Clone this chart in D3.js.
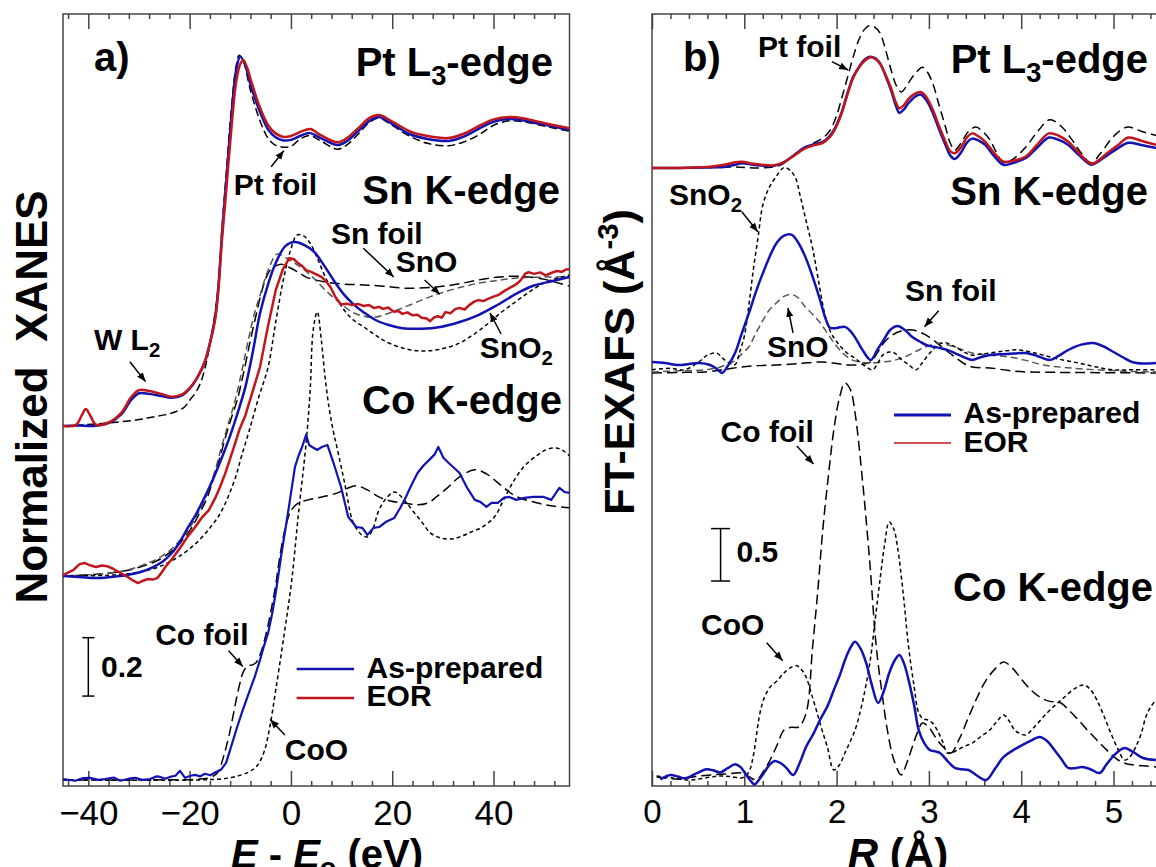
<!DOCTYPE html>
<html>
<head>
<meta charset="utf-8">
<script src="https://cdn.jsdelivr.net/npm/d3@7"></script>
<style>
  body { margin: 0; background: #fff; }
  svg { display: block; font-family: "Liberation Sans", Arial, Helvetica, sans-serif; }
</style>
</head>
<body>
<svg id="chart" width="1156" height="867"></svg>
<script>
// ---------- a) XANES, normalised mu(E) vs E - E0 (eV) ----------
const xanesOffsetPt = 1.233;
const xanesOffsetSn = 0.719;
const xanesOffsetCo = 0.021;

const ptAsPrep = [[-45,0],[-42,0.002],[-39,0],[-36,0.01],[-33.5,0.04],[-31.5,0.09],[-30,0.112],[-28,0.11],[-25.6,0.103],[-23.5,0.097],[-21.5,0.105],[-20,0.128],[-18.5,0.165],[-17,0.22],[-15.9,0.29],[-15,0.37],[-14.4,0.46],[-13.6,0.66],[-12.8,0.83],[-11.8,1.05],[-10.8,1.22],[-10,1.265],[-9.2,1.245],[-8,1.17],[-6.1,1.075],[-4.5,1.015],[-3.1,0.99],[-1.5,0.978],[0,0.98],[2,0.995],[3.8,1.003],[6,0.985],[9.2,0.962],[11,0.975],[13.3,1.01],[15.5,1.045],[17.4,1.058],[19.5,1.04],[23.4,1.0],[27,0.983],[31.1,0.976],[34,0.99],[37.4,1.021],[40,1.042],[43.1,1.051],[46,1.046],[49.3,1.034],[52,1.025],[55,1.014]];
const ptEor = [[-45,0],[-42.5,0.003],[-41.2,0.04],[-40.5,0.058],[-39.6,0.035],[-38.5,0.005],[-36,0.012],[-33.5,0.045],[-31.5,0.1],[-30,0.123],[-28,0.12],[-25.6,0.11],[-23.5,0.1],[-21.5,0.108],[-20,0.13],[-18.5,0.166],[-17,0.22],[-15.9,0.29],[-15,0.36],[-14.4,0.45],[-13.6,0.64],[-12.8,0.8],[-11.8,1.01],[-10.8,1.18],[-10,1.24],[-9.4,1.253],[-8.6,1.225],[-8,1.19],[-6.1,1.09],[-4.5,1.03],[-3.1,1.003],[-1.5,0.99],[0,0.993],[2,1.008],[3.8,1.017],[6,0.995],[9.2,0.972],[11,0.985],[13.3,1.02],[15.5,1.055],[17.4,1.065],[19.5,1.048],[23.4,1.01],[27,0.993],[31.1,0.986],[34,1.0],[37.4,1.03],[40,1.05],[43.1,1.058],[46,1.053],[49.3,1.04],[52,1.03],[55,1.02]];
const ptFoil = [[-45,0],[-40,0.005],[-35,0.012],[-30,0.022],[-27.5,0.03],[-25,0.038],[-22.9,0.048],[-21,0.065],[-19.9,0.09],[-18.8,0.115],[-17.8,0.15],[-16.8,0.21],[-16,0.28],[-15.2,0.36],[-14.4,0.47],[-13.6,0.68],[-12.8,0.86],[-11.8,1.08],[-10.8,1.235],[-10.2,1.27],[-9.4,1.25],[-8,1.15],[-6.1,1.045],[-4.5,0.985],[-3.1,0.962],[-1.5,0.955],[0,0.958],[2,0.985],[3.8,0.995],[6,0.975],[9.2,0.948],[11,0.962],[13.3,1.0],[15.5,1.04],[17.4,1.055],[19.5,1.035],[23.4,0.993],[27,0.968],[31.1,0.96],[34,0.972],[37.4,1.0],[40,1.03],[43.1,1.045],[46,1.042],[49.3,1.03],[52,1.02],[55,1.01]];

const snAsPrep = [[-45,0],[-41,-0.004],[-38.5,-0.007],[-35.5,-0.003],[-32.6,0.003],[-30,0.012],[-27.2,0.031],[-25.3,0.05],[-23.5,0.079],[-22,0.115],[-20.4,0.164],[-18.8,0.21],[-17.3,0.26],[-15.8,0.315],[-14.4,0.373],[-13.2,0.425],[-12.1,0.476],[-10.5,0.56],[-9,0.647],[-7.5,0.77],[-6.1,0.9],[-4.5,1.0],[-3,1.072],[-1.1,1.13],[0.8,1.144],[2.6,1.134],[4.6,1.11],[6.5,1.065],[8.4,1.014],[10.2,0.97],[12.1,0.935],[14.4,0.903],[16.7,0.877],[19.3,0.86],[22,0.849],[25.8,0.847],[29.5,0.853],[33.3,0.87],[37,0.894],[40.9,0.93],[44.7,0.969],[48,0.995],[51.5,1.01],[55,1.024]];
const snEor = [[-45,0.003],[-43,0.02],[-41.8,0.04],[-40.8,0.045],[-39.5,0.036],[-38.5,0.031],[-37.3,0.036],[-36.3,0.034],[-35.2,0.026],[-34,0.014],[-32.5,0],[-31.2,-0.015],[-30.2,-0.024],[-29.2,-0.016],[-28.2,-0.01],[-27.3,-0.012],[-26.4,-0.007],[-25.6,0.01],[-24.8,0.031],[-23.4,0.06],[-21.9,0.096],[-20.4,0.135],[-18.9,0.168],[-17.6,0.2],[-16.2,0.226],[-15,0.265],[-14,0.305],[-13,0.35],[-12.1,0.397],[-11.1,0.45],[-10.2,0.5],[-9,0.55],[-7.6,0.63],[-6.1,0.716],[-4.6,0.85],[-3,0.979],[-1.6,1.05],[-0.3,1.089],[0.6,1.085],[1.4,1.072],[2.2,1.062],[3,1.048],[4,1.042],[5,1.033],[6,1.025],[6.8,1.012],[7.8,0.99],[8.8,0.955],[9.9,0.93],[11,0.933],[12.1,0.928],[13.2,0.932],[14.4,0.925],[15.4,0.928],[16.5,0.918],[17.4,0.922],[18.2,0.915],[19.2,0.92],[20.3,0.905],[21.2,0.908],[22,0.898],[23,0.903],[24,0.893],[25,0.895],[25.8,0.885],[26.8,0.882],[27.5,0.873],[28.2,0.885],[29,0.89],[29.8,0.885],[30.5,0.904],[31.5,0.9],[32.5,0.915],[33.3,0.918],[34.3,0.913],[35.2,0.928],[36.2,0.94],[37,0.945],[38,0.942],[39,0.95],[40,0.957],[40.9,0.962],[42,0.975],[43,0.985],[44.3,0.997],[45.3,1.012],[46.2,1.035],[46.9,1.041],[48,1.035],[49.2,1.04],[50.3,1.03],[51.4,1.038],[52.5,1.045],[53.5,1.042],[54.3,1.05],[55,1.051]];
const snFoil = [[-45,0],[-37.7,0.007],[-33,0.017],[-29.8,0.031],[-26.5,0.052],[-23.8,0.082],[-21.8,0.115],[-19.9,0.158],[-18.2,0.21],[-16.5,0.27],[-15.2,0.34],[-13.9,0.414],[-12.8,0.483],[-11.7,0.545],[-10.6,0.603],[-9.3,0.7],[-8,0.808],[-6.8,0.9],[-5.7,0.979],[-4.7,1.03],[-3.7,1.055],[-1.9,1.068],[-0.1,1.055],[1.5,1.04],[3,1.024],[6.8,1.007],[10.5,1.0],[14.4,0.997],[18.2,0.993],[22.6,0.986],[28.7,0.99],[33,1.0],[37,1.014],[40.5,1.023],[44,1.027],[47,1.024],[49.9,1.017],[52.5,1.005],[55,0.993]];
const snO = [[-45,0],[-37.7,0.007],[-33,0.018],[-29.8,0.034],[-26.5,0.058],[-23.8,0.089],[-21.8,0.125],[-19.9,0.168],[-18.2,0.22],[-16.5,0.284],[-15,0.36],[-13.6,0.449],[-12.3,0.525],[-11,0.603],[-9.6,0.71],[-8.3,0.818],[-7.2,0.9],[-6.1,0.962],[-4.5,1.048],[-2.7,1.103],[-0.9,1.089],[0.7,1.072],[2.2,1.055],[4.5,1.02],[6.8,0.979],[9.7,0.935],[12.1,0.904],[14.4,0.89],[16.7,0.887],[19.3,0.9],[22,0.918],[25.8,0.945],[29.5,0.969],[33.3,0.988],[37,1.003],[40.9,1.013],[44.7,1.021],[50,1.024],[55,1.024]];
const snO2 = [[-45,0],[-40,0.001],[-35.7,0.003],[-32,0.008],[-29.8,0.014],[-27,0.026],[-24.3,0.045],[-21,0.08],[-18.1,0.123],[-16,0.165],[-14.4,0.202],[-13.2,0.24],[-12.1,0.284],[-10.9,0.34],[-9.8,0.408],[-8.2,0.5],[-6.4,0.61],[-4.5,0.716],[-3,0.87],[-1.5,1.014],[0,1.12],[1.2,1.168],[2.5,1.165],[3.8,1.14],[5.3,1.085],[6.8,1.024],[8.6,0.965],[10.5,0.911],[12.4,0.876],[14.4,0.853],[16.3,0.83],[18.2,0.808],[22,0.781],[25.8,0.771],[29.5,0.777],[33.3,0.798],[36,0.827],[38.6,0.86],[41.3,0.9],[44,0.935],[47,0.972],[49.9,1.003],[52.5,1.02],[55,1.031]];

const coAsPrep = [[-45,0.003],[-42.6,-0.003],[-41,0.006],[-39.7,0.007],[-38,0.0],[-36.7,0.003],[-35,0.008],[-33.7,-0.003],[-32,0.004],[-30.8,0.007],[-29.3,0.0],[-27.8,0.003],[-26.5,0.012],[-25.8,0.01],[-24.8,0.004],[-23.9,0.01],[-22.8,0.014],[-21.9,0.031],[-20.9,0.007],[-19.8,0.014],[-18.9,0.017],[-17.9,0.012],[-17,0.021],[-15.9,0.016],[-14.8,0.027],[-13.8,0.035],[-12.8,0.058],[-11.7,0.12],[-10.6,0.182],[-9.5,0.24],[-8.3,0.298],[-7.2,0.35],[-6.1,0.411],[-5.3,0.46],[-4.5,0.503],[-3.7,0.57],[-3,0.64],[-1.9,0.771],[-0.7,0.901],[0.8,1.072],[1.5,1.11],[2.2,1.14],[3,1.182],[3.6,1.147],[4.2,1.14],[5.2,1.13],[6.1,1.14],[7.2,1.147],[8.4,1.086],[9.9,1.003],[11.3,0.901],[12.9,0.866],[14.1,0.863],[15.1,0.839],[16.3,0.863],[17.4,0.866],[18.8,0.884],[20.4,0.897],[21.6,0.932],[22.7,0.969],[23.8,1.01],[25,1.051],[26.1,1.075],[27.3,1.096],[28.3,1.113],[29.1,1.14],[30.1,1.103],[31.1,1.086],[33.3,1.051],[34.8,1.0],[36.3,0.959],[37.4,0.952],[38.6,0.935],[39.6,0.949],[40.9,0.949],[42,0.966],[43.1,0.969],[44.5,0.959],[46.1,0.966],[47.9,0.969],[49.9,0.969],[51.4,0.959],[53,1.0],[54,0.986],[55,0.983]];
const coFoil = [[-45,0],[-27.8,0],[-17.9,0.003],[-15.6,0.01],[-14.4,0.027],[-13.2,0.086],[-12.1,0.161],[-11,0.257],[-10.2,0.322],[-9.4,0.37],[-8.6,0.39],[-7.6,0.394],[-6.9,0.401],[-6.1,0.428],[-5.3,0.473],[-4.5,0.531],[-3.8,0.592],[-3,0.668],[-2.3,0.753],[-1.1,0.863],[0.1,0.925],[1.5,0.949],[3.4,0.959],[5.3,0.966],[7.2,0.973],[9.2,0.983],[10.9,0.997],[12.9,1.007],[15.1,0.993],[17.4,0.969],[19.6,0.955],[22,0.949],[25,0.942],[27.1,0.949],[28.7,0.969],[30.9,1.0],[33.3,1.038],[36.3,1.062],[38.6,1.048],[40.9,1.017],[42.8,0.99],[44.7,0.969],[48.5,0.949],[51.7,0.938],[55,0.932]];
const coO = [[-45,0],[-17.9,0],[-12.1,0.007],[-8.3,0.027],[-6.7,0.048],[-5.3,0.096],[-4.1,0.188],[-3,0.308],[-1.5,0.479],[0.1,0.675],[1.5,0.914],[3,1.154],[3.8,1.336],[4.4,1.541],[5.2,1.603],[6,1.507],[6.8,1.37],[7.6,1.267],[8.4,1.192],[9.2,1.13],[10.6,1.017],[12.1,0.89],[13.1,0.856],[14,0.839],[15.1,0.832],[16.1,0.856],[17.4,0.925],[18.9,0.966],[20.4,0.986],[21.6,0.973],[22.7,0.952],[24.2,0.918],[25.8,0.884],[27.5,0.846],[29.5,0.829],[31.8,0.825],[33.9,0.836],[35.6,0.849],[37.8,0.866],[40.2,0.901],[42,0.959],[44,1.024],[46.1,1.075],[48.5,1.11],[50.3,1.13],[52.3,1.137],[53.8,1.127],[55,1.11]];

// ---------- b) FT-EXAFS magnitude vs R (Å) ----------
const exafsOffsetPt = 5.897;
const exafsOffsetSn = 3.941;
const exafsOffsetCo = 0.0;

const exPtAsPrep = [[0,0],[0.3,0],[0.6,0.005],[0.78,0.01],[0.9,0.03],[0.975,0.045],[1.1,0.03],[1.32,0.02],[1.42,0.05],[1.51,0.105],[1.6,0.165],[1.665,0.2],[1.75,0.225],[1.85,0.25],[1.92,0.3],[1.97,0.36],[2.05,0.52],[2.12,0.72],[2.18,0.87],[2.24,0.96],[2.3,1.03],[2.36,1.06],[2.42,1.045],[2.47,1.0],[2.53,0.88],[2.59,0.74],[2.64,0.6],[2.68,0.525],[2.73,0.56],[2.78,0.62],[2.85,0.68],[2.91,0.7],[2.97,0.65],[3.04,0.53],[3.11,0.37],[3.18,0.22],[3.23,0.12],[3.28,0.086],[3.35,0.15],[3.41,0.24],[3.47,0.28],[3.54,0.26],[3.61,0.22],[3.71,0.11],[3.81,0.03],[3.92,0.05],[4.05,0.095],[4.18,0.2],[4.3,0.29],[4.4,0.27],[4.51,0.22],[4.63,0.12],[4.76,0.03],[4.85,0.07],[4.93,0.12],[5.05,0.19],[5.16,0.24],[5.3,0.22],[5.46,0.19]];
const exPtEor = [[0,0],[0.3,0],[0.6,0.01],[0.78,0.03],[0.9,0.055],[0.975,0.06],[1.1,0.04],[1.32,0.025],[1.42,0.05],[1.51,0.1],[1.6,0.155],[1.665,0.19],[1.75,0.215],[1.85,0.24],[1.92,0.29],[1.97,0.35],[2.05,0.51],[2.12,0.71],[2.18,0.86],[2.24,0.955],[2.3,1.02],[2.36,1.055],[2.42,1.04],[2.47,0.995],[2.53,0.89],[2.59,0.76],[2.64,0.63],[2.68,0.57],[2.73,0.6],[2.78,0.66],[2.85,0.71],[2.91,0.725],[2.97,0.68],[3.04,0.56],[3.11,0.4],[3.18,0.25],[3.23,0.16],[3.28,0.14],[3.35,0.2],[3.41,0.29],[3.47,0.33],[3.54,0.3],[3.61,0.25],[3.71,0.14],[3.81,0.06],[3.92,0.07],[4.05,0.11],[4.18,0.23],[4.3,0.33],[4.4,0.31],[4.51,0.25],[4.63,0.14],[4.76,0.04],[4.85,0.08],[4.93,0.14],[5.05,0.22],[5.16,0.29],[5.3,0.26],[5.46,0.22]];
const exPtFoil = [[0,0],[0.5,0],[0.9,0.01],[1.1,0],[1.32,0.01],[1.42,0.04],[1.51,0.1],[1.6,0.16],[1.665,0.2],[1.78,0.25],[1.87,0.3],[1.93,0.36],[2,0.5],[2.06,0.68],[2.12,0.87],[2.18,1.06],[2.24,1.22],[2.3,1.32],[2.36,1.36],[2.42,1.34],[2.47,1.29],[2.53,1.13],[2.59,0.935],[2.65,0.78],[2.7,0.725],[2.75,0.77],[2.8,0.84],[2.87,0.92],[2.93,0.96],[2.98,0.92],[3.04,0.81],[3.11,0.6],[3.18,0.39],[3.23,0.24],[3.28,0.17],[3.35,0.24],[3.43,0.35],[3.51,0.39],[3.58,0.35],[3.66,0.27],[3.73,0.15],[3.81,0.05],[3.92,0.09],[4.05,0.2],[4.18,0.35],[4.31,0.46],[4.43,0.4],[4.55,0.27],[4.66,0.13],[4.76,0.05],[4.86,0.14],[4.97,0.27],[5.06,0.35],[5.16,0.39],[5.3,0.35],[5.46,0.31]];

const exSnAsPrep = [[0,0.105],[0.14,0.095],[0.28,0.076],[0.4,0.085],[0.51,0.095],[0.63,0.076],[0.7,0.04],[0.76,0],[0.83,0.08],[0.9,0.19],[0.97,0.37],[1.05,0.57],[1.12,0.76],[1.2,0.95],[1.27,1.1],[1.35,1.24],[1.43,1.31],[1.51,1.32],[1.58,1.25],[1.66,1.11],[1.74,0.92],[1.82,0.7],[1.88,0.52],[1.93,0.43],[2,0.43],[2.09,0.44],[2.15,0.4],[2.2,0.34],[2.28,0.22],[2.37,0.124],[2.44,0.22],[2.51,0.315],[2.58,0.41],[2.66,0.448],[2.74,0.41],[2.82,0.343],[2.9,0.3],[2.97,0.267],[3.05,0.25],[3.12,0.238],[3.2,0.22],[3.28,0.19],[3.38,0.15],[3.47,0.124],[3.56,0.15],[3.66,0.172],[3.85,0.18],[4.05,0.19],[4.18,0.16],[4.31,0.124],[4.4,0.16],[4.51,0.219],[4.65,0.27],[4.78,0.286],[4.9,0.25],[5,0.2],[5.1,0.15],[5.2,0.105],[5.32,0.09],[5.46,0.095]];
const exSnO2 = [[0,0.03],[0.2,0.045],[0.35,0.03],[0.5,0.1],[0.6,0.17],[0.7,0.19],[0.78,0.13],[0.85,0.09],[0.9,0.08],[0.95,0.2],[1,0.35],[1.05,0.65],[1.1,1.0],[1.15,1.3],[1.2,1.6],[1.27,1.77],[1.35,1.88],[1.43,1.96],[1.5,1.93],[1.56,1.85],[1.6,1.71],[1.67,1.45],[1.74,1.19],[1.8,0.9],[1.87,0.57],[1.93,0.4],[2,0.3],[2.1,0.2],[2.2,0.14],[2.3,0.07],[2.39,0.03],[2.45,0.1],[2.5,0.17],[2.57,0.2],[2.63,0.19],[2.7,0.13],[2.78,0.08],[2.86,0.03],[2.93,0.1],[3.01,0.19],[3.09,0.26],[3.17,0.29],[3.28,0.25],[3.38,0.2],[3.47,0.17],[3.56,0.18],[3.66,0.19],[3.82,0.21],[3.97,0.22],[4.1,0.2],[4.24,0.17],[4.42,0.13],[4.62,0.095],[4.8,0.06],[5,0.03],[5.2,0.03],[5.46,0.03]];
const exSnO = [[0,0.01],[0.3,0.02],[0.58,0.03],[0.75,0.06],[0.9,0.12],[0.97,0.18],[1.05,0.25],[1.12,0.37],[1.2,0.5],[1.27,0.6],[1.35,0.67],[1.43,0.73],[1.5,0.75],[1.58,0.72],[1.66,0.63],[1.74,0.56],[1.82,0.48],[1.9,0.38],[1.97,0.29],[2.08,0.18],[2.18,0.12],[2.34,0.095],[2.5,0.105],[2.62,0.12],[2.74,0.153],[2.89,0.219],[3,0.26],[3.12,0.286],[3.2,0.27],[3.28,0.248],[3.47,0.19],[3.66,0.17],[3.86,0.153],[4.05,0.12],[4.24,0.076],[4.5,0.05],[4.82,0.03],[5.2,0.015],[5.46,0.01]];
const exSnFoil = [[0,0],[0.3,0.005],[0.58,0.01],[0.8,0.035],[0.97,0.057],[1.15,0.07],[1.35,0.076],[1.6,0.09],[1.82,0.105],[2,0.09],[2.12,0.076],[2.25,0.08],[2.37,0.105],[2.44,0.19],[2.51,0.286],[2.6,0.36],[2.7,0.4],[2.82,0.41],[2.95,0.37],[3.09,0.286],[3.18,0.22],[3.28,0.153],[3.38,0.09],[3.47,0.057],[3.66,0.048],[3.85,0.025],[4.05,0.01],[4.5,0.005],[5.46,0]];

const exCoAsPrep = [[0.09,0.064],[0.2,0.105],[0.28,0.09],[0.36,0.073],[0.48,0.12],[0.59,0.16],[0.66,0.15],[0.74,0.13],[0.82,0.17],[0.9,0.207],[0.96,0.18],[1.01,0.121],[1.06,0.06],[1.11,0.016],[1.16,0.06],[1.21,0.121],[1.27,0.2],[1.33,0.239],[1.4,0.215],[1.46,0.169],[1.53,0.105],[1.6,0.22],[1.67,0.375],[1.75,0.5],[1.82,0.63],[1.9,0.76],[1.97,0.916],[2.04,1.07],[2.09,1.2],[2.15,1.32],[2.2,1.377],[2.26,1.31],[2.32,1.174],[2.38,0.97],[2.45,0.792],[2.51,0.9],[2.57,1.078],[2.63,1.2],[2.68,1.25],[2.73,1.17],[2.78,1.01],[2.84,0.77],[2.89,0.534],[2.95,0.41],[3.01,0.344],[3.07,0.33],[3.12,0.315],[3.2,0.24],[3.28,0.172],[3.35,0.16],[3.43,0.153],[3.52,0.1],[3.62,0.057],[3.72,0.17],[3.81,0.277],[3.91,0.34],[4.01,0.39],[4.1,0.43],[4.2,0.468],[4.28,0.43],[4.36,0.344],[4.44,0.25],[4.51,0.172],[4.58,0.17],[4.66,0.181],[4.75,0.16],[4.85,0.124],[4.92,0.2],[4.98,0.267],[5.05,0.33],[5.12,0.363],[5.22,0.32],[5.32,0.267],[5.46,0.248]];
const exCoFoil = [[0.05,0.086],[0.3,0.067],[0.47,0.09],[0.63,0.105],[0.8,0.115],[0.97,0.124],[1.05,0.09],[1.13,0.057],[1.2,0.13],[1.28,0.248],[1.36,0.4],[1.43,0.534],[1.51,0.56],[1.59,0.563],[1.67,0.697],[1.74,1.326],[1.8,1.9],[1.85,2.443],[1.91,2.95],[1.97,3.397],[2.03,3.7],[2.09,3.845],[2.15,3.78],[2.2,3.559],[2.28,2.92],[2.36,2.128],[2.43,1.326],[2.49,0.9],[2.55,0.534],[2.62,0.25],[2.7,0.105],[2.76,0.22],[2.82,0.372],[2.88,0.52],[2.93,0.601],[3,0.56],[3.09,0.439],[3.17,0.36],[3.24,0.315],[3.33,0.45],[3.43,0.658],[3.52,0.84],[3.62,1.011],[3.72,1.12],[3.81,1.183],[3.91,1.12],[4.01,1.011],[4.1,0.92],[4.2,0.849],[4.3,0.81],[4.43,0.792],[4.52,0.72],[4.62,0.63],[4.72,0.53],[4.82,0.439],[4.93,0.34],[5.05,0.248],[5.15,0.21],[5.24,0.2],[5.35,0.19],[5.46,0.181]];
const exCoO = [[0.05,0.095],[0.2,0.08],[0.41,0.057],[0.6,0.08],[0.74,0.095],[0.85,0.09],[0.97,0.076],[1.02,0.1],[1.06,0.153],[1.1,0.3],[1.17,0.697],[1.22,0.85],[1.28,0.945],[1.35,1.0],[1.43,1.078],[1.5,1.13],[1.57,1.148],[1.62,1.11],[1.67,1.04],[1.72,0.9],[1.78,0.725],[1.84,0.54],[1.9,0.372],[1.97,0.153],[2.03,0.2],[2.09,0.315],[2.15,0.43],[2.2,0.534],[2.28,0.8],[2.36,1.174],[2.42,1.6],[2.47,1.966],[2.52,2.3],[2.57,2.519],[2.62,2.45],[2.66,2.281],[2.72,1.85],[2.78,1.326],[2.84,0.95],[2.89,0.697],[2.94,0.64],[2.99,0.63],[3.04,0.6],[3.09,0.534],[3.15,0.42],[3.2,0.315],[3.26,0.32],[3.31,0.344],[3.39,0.38],[3.47,0.41],[3.56,0.47],[3.66,0.534],[3.74,0.62],[3.81,0.677],[3.87,0.62],[3.93,0.534],[3.99,0.5],[4.05,0.487],[4.16,0.58],[4.28,0.697],[4.38,0.78],[4.47,0.849],[4.58,0.93],[4.68,0.964],[4.75,0.92],[4.82,0.821],[4.9,0.66],[4.97,0.506],[5.05,0.35],[5.12,0.248],[5.18,0.28],[5.24,0.372],[5.3,0.5],[5.35,0.658],[5.4,0.75],[5.46,0.821]];

// tick values
const xanesMajorTicks = [-40, -20, 0, 20, 40];
const exafsMajorTicks = [0, 1, 2, 3, 4, 5];

const BLUE = '#1212b2';
const RED = '#c0161c';
const AXIS = '#444';

const svg = d3.select('#chart');

// scales
const xL = d3.scaleLinear().domain([-45, 55]).range([63, 569.5]);
const yL = d3.scaleLinear().domain([0, 2.644]).range([786, 14]);
const xR = d3.scaleLinear().domain([0, 5.5]).range([652, 652 + 5.5 * 92.3]);
const yR = d3.scaleLinear().domain([0, 7.366]).range([786, 14]);

const defs = svg.append('defs');
defs.append('clipPath').attr('id', 'clipL').append('rect')
  .attr('x', 63).attr('y', 14).attr('width', 506.5).attr('height', 772);
defs.append('clipPath').attr('id', 'clipR').append('rect')
  .attr('x', 652).attr('y', 15).attr('width', 520).attr('height', 771);
defs.append('marker')
  .attr('id', 'arrow')
  .attr('viewBox', '0 0 10 10')
  .attr('refX', 10).attr('refY', 5)
  .attr('markerWidth', 9).attr('markerHeight', 9)
  .attr('markerUnits', 'userSpaceOnUse')
  .attr('orient', 'auto')
  .append('path').attr('d', 'M0,1 L10,5 L0,9 z').attr('fill', '#000');

// axes: frame + inward ticks on top and bottom
function drawAxes(x, y, majors, minorStep, fontSize, fmt) {
  const [x0, x1] = x.range();
  const [yb, yt] = y.range();
  const d = x.domain();
  const minors = d3.range(Math.ceil(d[0] / minorStep) * minorStep, d[1] + 1e-9, minorStep)
    .filter(v => !majors.some(m => Math.abs(m - v) < 1e-6));

  const g = svg.append('g');
  g.append('rect')
    .attr('x', x0).attr('y', yt).attr('width', x1 - x0).attr('height', yb - yt)
    .attr('fill', 'none').attr('stroke', AXIS).attr('stroke-width', 1.5);

  const bottom = g.append('g').attr('transform', `translate(0,${yb})`)
    .call(d3.axisBottom(x).tickValues(majors).tickFormat(fmt)
      .tickSizeInner(-15).tickSizeOuter(0).tickPadding(14));
  bottom.selectAll('text').attr('font-size', fontSize).attr('fill', '#000')
    .attr('font-family', '"Liberation Sans", Arial, sans-serif');
  g.append('g').attr('transform', `translate(0,${yb})`)
    .call(d3.axisBottom(x).tickValues(minors).tickSizeInner(-5).tickSizeOuter(0).tickFormat(''));
  g.append('g').attr('transform', `translate(0,${yt})`)
    .call(d3.axisTop(x).tickValues(majors).tickSizeInner(-15).tickSizeOuter(0).tickFormat(''));
  g.append('g').attr('transform', `translate(0,${yt})`)
    .call(d3.axisTop(x).tickValues(minors).tickSizeInner(-5).tickSizeOuter(0).tickFormat(''));
  g.selectAll('.domain').remove();
  g.selectAll('.tick line').attr('stroke', AXIS).attr('stroke-width', 1.5);
}

drawAxes(xL, yL, xanesMajorTicks, 4, 35, d3.format('d'));
drawAxes(xR, yR, exafsMajorTicks, 0.2, 33, d3.format('d'));

// curves
function curve(layer, x, y, data, offset, opts) {
  const line = d3.line()
    .x(d => x(d[0]))
    .y(d => y(d[1] + offset))
    .curve(opts.linear ? d3.curveLinear : d3.curveCatmullRom.alpha(0.5));
  layer.append('path')
    .datum(data)
    .attr('fill', 'none')
    .attr('stroke', opts.color)
    .attr('stroke-width', opts.width)
    .attr('stroke-dasharray', opts.dash || null)
    .attr('stroke-linejoin', 'round')
    .attr('d', line);
}

const LONG = '10,5', SHORT = '4,3', MID = '7,4';
const refStyle = (dash, color) => ({ color: color || '#000', width: 1.5, dash });

const gL = svg.append('g').attr('clip-path', 'url(#clipL)');
curve(gL, xL, yL, ptFoil, xanesOffsetPt, refStyle('8,4'));
curve(gL, xL, yL, ptAsPrep, xanesOffsetPt, { color: BLUE, width: 2.5 });
curve(gL, xL, yL, ptEor, xanesOffsetPt, { color: RED, width: 2.5 });

curve(gL, xL, yL, snFoil, xanesOffsetSn, refStyle(LONG));
curve(gL, xL, yL, snO, xanesOffsetSn, refStyle(MID, '#555'));
curve(gL, xL, yL, snO2, xanesOffsetSn, refStyle(SHORT));
curve(gL, xL, yL, snAsPrep, xanesOffsetSn, { color: BLUE, width: 2.5 });
curve(gL, xL, yL, snEor, xanesOffsetSn, { color: RED, width: 2.5, linear: true });

curve(gL, xL, yL, coFoil, xanesOffsetCo, refStyle(LONG));
curve(gL, xL, yL, coO, xanesOffsetCo, refStyle(SHORT));
curve(gL, xL, yL, coAsPrep, xanesOffsetCo, { color: BLUE, width: 2.2, linear: true });

const gR = svg.append('g').attr('clip-path', 'url(#clipR)');
curve(gR, xR, yR, exPtFoil, exafsOffsetPt, refStyle('9,5'));
curve(gR, xR, yR, exPtAsPrep, exafsOffsetPt, { color: BLUE, width: 2.5 });
curve(gR, xR, yR, exPtEor, exafsOffsetPt, { color: RED, width: 2.5 });

curve(gR, xR, yR, exSnFoil, exafsOffsetSn, refStyle(LONG));
curve(gR, xR, yR, exSnO, exafsOffsetSn, refStyle(MID, '#555'));
curve(gR, xR, yR, exSnO2, exafsOffsetSn, refStyle(SHORT));
curve(gR, xR, yR, exSnAsPrep, exafsOffsetSn, { color: BLUE, width: 2.5 });

curve(gR, xR, yR, exCoFoil, exafsOffsetCo, refStyle(LONG));
curve(gR, xR, yR, exCoO, exafsOffsetCo, refStyle(SHORT));
curve(gR, xR, yR, exCoAsPrep, exafsOffsetCo, { color: BLUE, width: 2.5 });

// text helpers
function label(x, y, parts, size, anchor, extra) {
  const t = svg.append('text')
    .attr('x', x).attr('y', y)
    .attr('font-size', size)
    .attr('font-weight', 'bold')
    .attr('text-anchor', anchor || 'start');
  if (extra) extra(t);
  let shift = 0;
  parts.forEach(p => {
    const s = t.append('tspan').text(p.s);
    const want = p.sub ? size * 0.22 : p.sup ? -size * 0.38 : 0;
    if (want !== shift) { s.attr('dy', want - shift); shift = want; }
    if (p.sub || p.sup) s.attr('font-size', size * 0.68);
    if (p.it) s.attr('font-style', 'italic');
  });
  return t;
}

// edge titles and panel letters
label(94, 71, [{ s: 'a)' }], 40);
label(683, 71, [{ s: 'b)' }], 40);
label(553, 76, [{ s: 'Pt L' }, { s: '3', sub: true }, { s: '-edge' }], 40, 'end');
label(560, 204, [{ s: 'Sn K-edge' }], 40, 'end');
label(562, 414, [{ s: 'Co K-edge' }], 40, 'end');
label(1148, 73, [{ s: 'Pt L' }, { s: '3', sub: true }, { s: '-edge' }], 40, 'end');
label(1148, 205, [{ s: 'Sn K-edge' }], 40, 'end');
label(1153, 601, [{ s: 'Co K-edge' }], 40, 'end');

// axis titles (cut by the bottom edge, as in the original figure)
label(327, 868, [{ s: 'E', it: true }, { s: ' - ' }, { s: 'E', it: true }, { s: 'o', sub: true }, { s: ' (eV)' }], 40, 'middle');
label(898, 868, [{ s: 'R', it: true }, { s: ' (Å)' }], 42, 'middle');
label(0, 0, [{ s: 'Normalized  XANES' }], 44, 'middle',
  t => t.attr('transform', 'translate(47,397) rotate(-90)').attr('xml:space', 'preserve').style('white-space', 'pre'));
label(0, 0, [{ s: 'FT-EXAFS (Å' }, { s: '-3', sup: true }, { s: ')' }], 43, 'middle',
  t => t.attr('transform', 'translate(634,362) rotate(-90)'));

// annotations (positions in data units)
const xanesNotes = [
  { parts: [{ s: 'Pt foil' }], at: [-11.3, 2.024], from: [-3.9, 2.121], to: [-1.4, 2.176] },
  { parts: [{ s: 'Sn foil' }], at: [7.9, 1.856], from: [14.3, 1.842], to: [20.3, 1.743] },
  { parts: [{ s: 'SnO' }], at: [20.7, 1.76], from: [26.4, 1.733], to: [29.4, 1.684] },
  { parts: [{ s: 'SnO' }, { s: '2', sub: true }], at: [37.3, 1.466], from: [41.5, 1.548], to: [39.3, 1.62] },
  { parts: [{ s: 'W L' }, { s: '2', sub: true }], at: [-38.9, 1.493], from: [-31.8, 1.453], to: [-28.7, 1.385] },
  { parts: [{ s: 'Co foil' }], at: [-26.8, 0.483], from: [-12.3, 0.463], to: [-9.5, 0.409] },
  { parts: [{ s: 'CoO' }], at: [-1.2, 0.089], from: [-1.2, 0.175], to: [-4.1, 0.228] }
];
const exafsNotes = [
  { parts: [{ s: 'Pt foil' }], at: [1.148, 6.956], from: [1.95, 6.911], to: [2.124, 6.832] },
  { parts: [{ s: 'SnO' }, { s: '2', sub: true }], at: [0.184, 5.544], from: [0.973, 5.48], to: [1.146, 5.289] },
  { parts: [{ s: 'SnO' }], at: [1.246, 4.094], from: [1.528, 4.323], to: [1.473, 4.561] },
  { parts: [{ s: 'Sn foil' }], at: [2.741, 4.628], from: [3.106, 4.535], to: [2.952, 4.383] },
  { parts: [{ s: 'Co foil' }], at: [0.743, 3.282], from: [1.569, 3.244], to: [1.75, 3.073] },
  { parts: [{ s: 'CoO' }], at: [0.531, 1.441], from: [1.243, 1.367], to: [1.415, 1.196] }
];
function notes(list, x, y) {
  list.forEach(n => {
    label(x(n.at[0]), y(n.at[1]), n.parts, 30);
    svg.append('line')
      .attr('x1', x(n.from[0])).attr('y1', y(n.from[1]))
      .attr('x2', x(n.to[0])).attr('y2', y(n.to[1]))
      .attr('stroke', '#000').attr('stroke-width', 1.5)
      .attr('marker-end', 'url(#arrow)');
  });
}
notes(xanesNotes, xL, yL);
notes(exafsNotes, xR, yR);

// scale bars
function scaleBar(x, y, at, base, size, cap, text, textAt) {
  const g = svg.append('g').attr('stroke', '#000').attr('stroke-width', 1.5);
  const cx = x(at);
  g.append('line').attr('x1', cx).attr('x2', cx).attr('y1', y(base)).attr('y2', y(base + size));
  [base, base + size].forEach(v => {
    g.append('line').attr('x1', cx - cap).attr('x2', cx + cap).attr('y1', y(v)).attr('y2', y(v));
  });
  label(x(textAt[0]), y(textAt[1]), [{ s: text }], 30);
}
scaleBar(xL, yL, -40, 0.308, 0.2, 6, '0.2', [-37.5, 0.373]);
scaleBar(xR, yR, 0.743, 1.956, 0.5, 9.5, '0.5', [0.915, 2.137]);

// legends
const legendItems = ['As-prepared', 'EOR'];
const legendColors = [BLUE, RED];
function legend(x0, x1, ys, tx, baseYs, widths) {
  legendItems.forEach((name, i) => {
    svg.append('line')
      .attr('x1', x0).attr('x2', x1).attr('y1', ys[i]).attr('y2', ys[i])
      .attr('stroke', legendColors[i]).attr('stroke-width', widths[i]);
    label(tx, baseYs[i], [{ s: name }], 30);
  });
}
legend(296.6, 354, [669, 698], 366.6, [678, 706], [2.5, 2.5]);
legend(894, 951, [415, 443], 963.5, [423, 452], [3, 1.5]);
</script>
</body>
</html>
